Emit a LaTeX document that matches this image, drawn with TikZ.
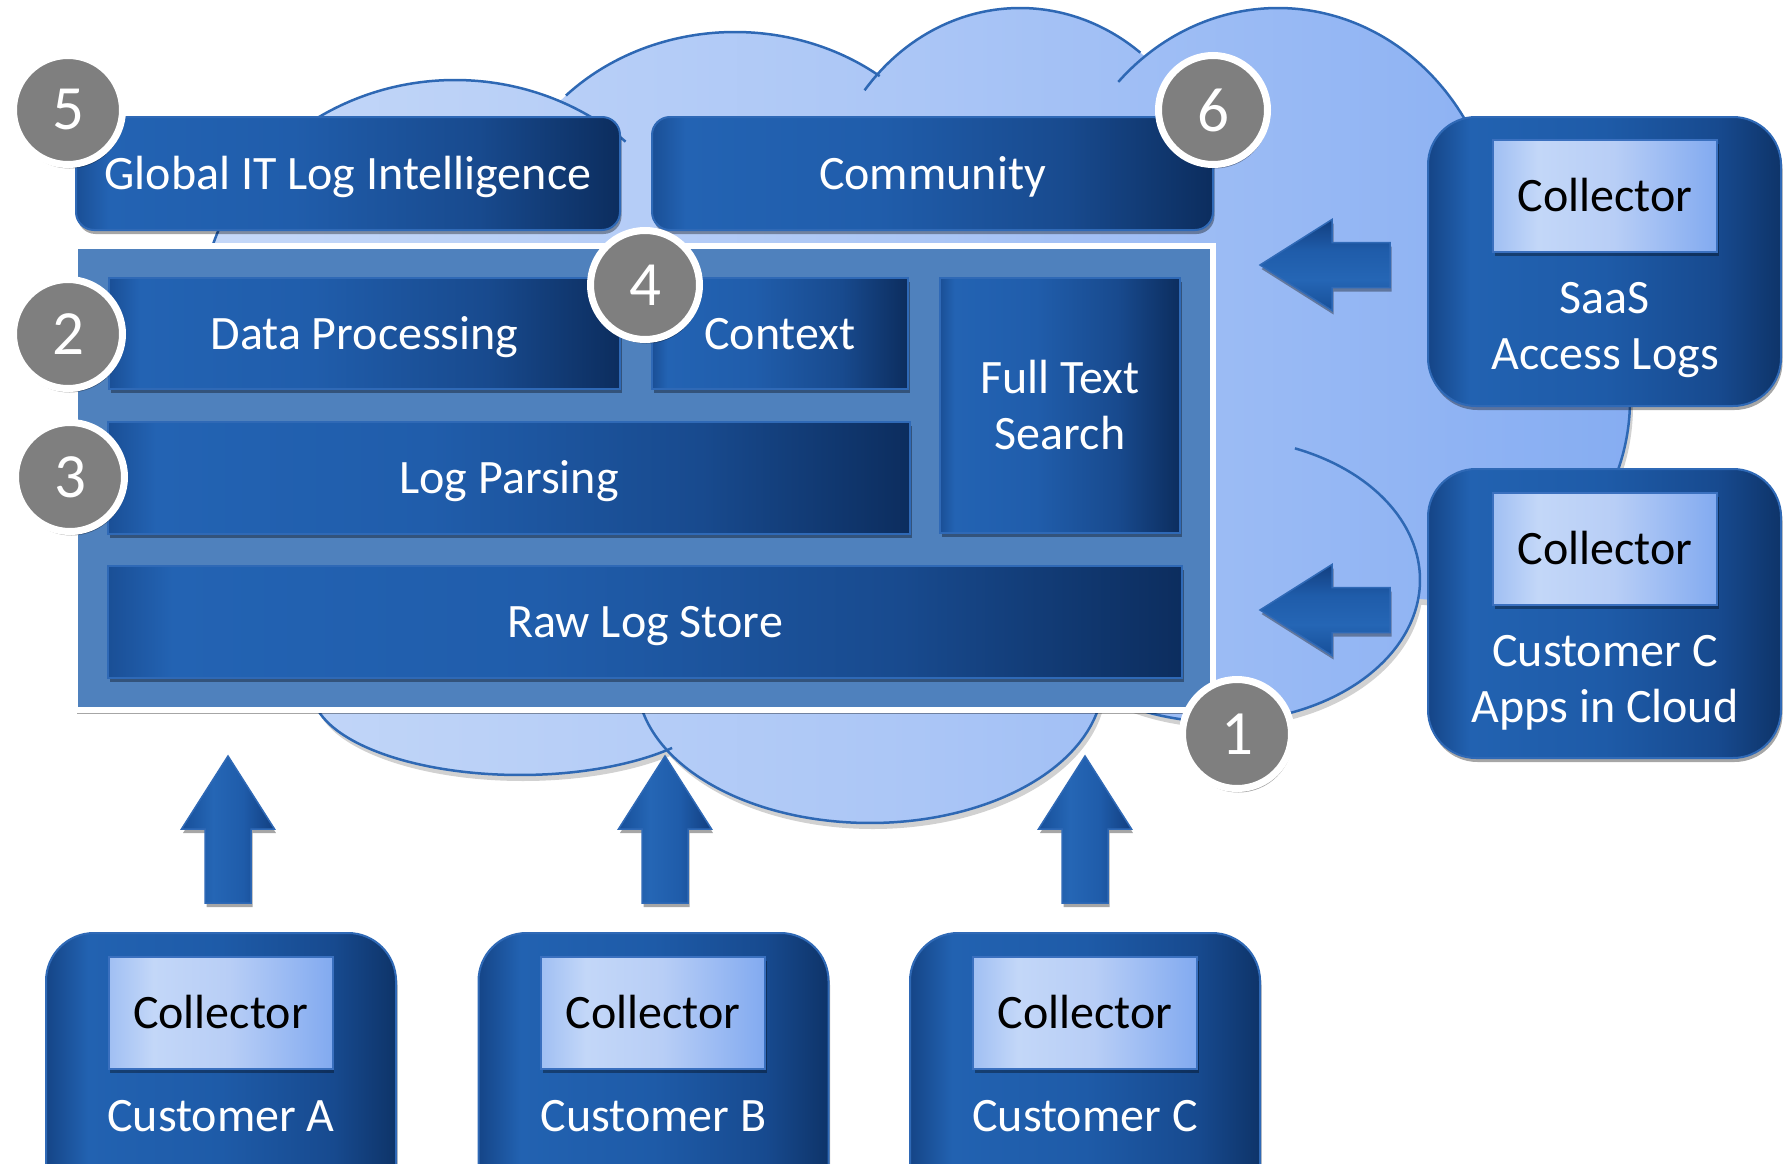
\documentclass[tikz,border=0pt]{standalone}
\usepackage{fontspec}
\setmainfont{Carlito}
\usetikzlibrary{shadows}

% palette
\definecolor{bxA}{HTML}{1A4F96}
\definecolor{bxB}{HTML}{2363B3}
\definecolor{bxC}{HTML}{205DAB}
\definecolor{bxD}{HTML}{184A8E}
\definecolor{bxE}{HTML}{0C2D5E}
\definecolor{srcA}{HTML}{154587}
\definecolor{srcB}{HTML}{2262B1}
\definecolor{srcC}{HTML}{1E5BA8}
\definecolor{srcD}{HTML}{174A8F}
\definecolor{srcE}{HTML}{0E3469}
\definecolor{colA}{HTML}{A0BFF3}
\definecolor{colB}{HTML}{C3D7F8}
\definecolor{colC}{HTML}{B8CEF6}
\definecolor{colD}{HTML}{82AAF0}
\definecolor{cldA}{HTML}{C5D8F8}
\definecolor{cldB}{HTML}{ABC6F6}
\definecolor{cldC}{HTML}{86ADF2}
\definecolor{arA}{HTML}{174F99}
\definecolor{arB}{HTML}{2566B5}
\definecolor{arC}{HTML}{1F5CAA}
\definecolor{arD}{HTML}{123F80}
\definecolor{boxedge}{HTML}{2F69B6}
\definecolor{colledge}{HTML}{3A70BF}
\definecolor{cloudedge}{HTML}{2E68B4}
\definecolor{storeblue}{HTML}{4F81BD}
\definecolor{badgegray}{HTML}{7F7F7F}

% gradients (the path spans 25bp..75bp of each shading)
\pgfdeclarehorizontalshading{boxshade}{100bp}{color(0bp)=(bxA); color(25bp)=(bxA); color(28bp)=(bxB); color(45bp)=(bxC); color(62bp)=(bxD); color(75bp)=(bxE); color(100bp)=(bxE)}
\pgfdeclarehorizontalshading{sourceshade}{100bp}{color(0bp)=(srcA); color(25bp)=(srcA); color(31bp)=(srcB); color(50bp)=(srcC); color(66bp)=(srcD); color(75bp)=(srcE); color(100bp)=(srcE)}
\pgfdeclarehorizontalshading{collshade}{100bp}{color(0bp)=(colA); color(25bp)=(colA); color(35bp)=(colB); color(52bp)=(colC); color(75bp)=(colD); color(100bp)=(colD)}
\pgfdeclarehorizontalshading{cloudshade}{100bp}{color(0bp)=(cldA); color(25bp)=(cldA); color(50bp)=(cldB); color(75bp)=(cldC); color(100bp)=(cldC)}
\pgfdeclarehorizontalshading{arrowshade}{100bp}{color(0bp)=(arA); color(25bp)=(arA); color(42bp)=(arB); color(58bp)=(arC); color(75bp)=(arD); color(100bp)=(arD)}

\newcommand\lblfont{\fontsize{48}{56}\selectfont}
\newcommand\digitfont{\fontsize{63}{63}\selectfont}

% block arrows: upward ones by x position, leftward ones by y position
\newcommand\uparrowat[2]{%
  \path[blockarrow] ({#1-23},903) -- ({#1-23},829) -- ({#1-46.5},829) -- (#2)
    -- ({#1+46.5},829) -- ({#1+23},829) -- ({#1+23},903) -- cycle;}
\newcommand\leftarrowat[2]{%
  \path[blockarrow, shading angle=90] (1390,{#1-22.5}) -- (1332,{#1-22.5}) -- (1332,{#1-45.5}) -- (#2)
    -- (1332,{#1+45.5}) -- (1332,{#1+22.5}) -- (1390,{#1+22.5}) -- cycle;}

\begin{document}
\begin{tikzpicture}[x=1pt, y=-1pt,
  softshadow/.style={drop shadow={shadow xshift=1.5pt, shadow yshift=-4pt, opacity=0.35, fill=black}},
  panel/.style={rectangle, shade, shading=boxshade, draw=boxedge, line width=2pt, inner sep=0pt,
    text=white, font=\lblfont, softshadow},
  capline/.style={text height=31pt, text depth=0pt},
  roundpanel/.style={panel, rounded corners=18pt},
  storebox/.style={rectangle, fill=storeblue, draw=white, line width=6pt, inner sep=0pt,
    minimum width=1138pt, minimum height=464pt, softshadow},
  sourcebox/.style={rectangle, rounded corners=48pt, shade, shading=sourceshade, draw=boxedge,
    line width=2pt, minimum width=353pt, minimum height=289pt, inner sep=0pt, softshadow},
  collectorbox/.style={rectangle, shade, shading=collshade, draw=colledge, line width=2pt,
    minimum width=224pt, minimum height=112pt, inner sep=0pt, text=black, font=\lblfont,
    capline, softshadow},
  sourcetext/.style={text=white, font=\lblfont, align=center, inner sep=0pt},
  badge/.style={circle, fill=badgegray, draw=white, line width=7pt, minimum size=109pt,
    inner sep=0pt, text=white, font=\digitfont, softshadow},
  blockarrow/.style={shade, shading=arrowshade, draw=boxedge, line width=1.5pt, softshadow},
  cloudline/.style={draw=cloudedge, line width=2.5pt}]

\useasboundingbox (0,0) rectangle (1792,1164);
\clip (0,0) rectangle (1792,1164);
\fill[white] (0,0) rectangle (1792,1164);

% ---- cloud: union of overlapping bumps ----
\begin{scope}[shift={(3,6)}]
  \fill[black, opacity=0.18]
    (455,320) ellipse [x radius=255, y radius=240]
    (735,240) ellipse [x radius=235, y radius=208]
    (1020,230) ellipse [x radius=200, y radius=222]
    (1278,250) ellipse [x radius=222, y radius=242]
    (1440,400) ellipse [x radius=190, y radius=200]
    (1220,580) ellipse [x radius=200, y radius=142]
    (520,690) ellipse [x radius=208, y radius=85]
    (870,680) ellipse [x radius=233, y radius=143];
\end{scope}
\shade[shading=cloudshade]
    (455,320) ellipse [x radius=255, y radius=240]
    (735,240) ellipse [x radius=235, y radius=208]
    (1020,230) ellipse [x radius=200, y radius=222]
    (1278,250) ellipse [x radius=222, y radius=242]
    (1440,400) ellipse [x radius=190, y radius=200]
    (1220,580) ellipse [x radius=200, y radius=142]
    (520,690) ellipse [x radius=208, y radius=85]
    (870,680) ellipse [x radius=233, y radius=143];
% bump outlines
\draw[cloudline] plot[domain=-163:-48, samples=60, smooth] ({455+255*cos(\x)},{320+240*sin(\x)});
\draw[cloudline] plot[domain=-136:-52, samples=50, smooth] ({735+235*cos(\x)},{240+208*sin(\x)});
\draw[cloudline] plot[domain=-141:-53, samples=50, smooth] ({1020+200*cos(\x)},{230+222*sin(\x)});
\draw[cloudline] plot[domain=-136:-25, samples=60, smooth] ({1278+222*cos(\x)},{250+242*sin(\x)});
\draw[cloudline] plot[domain=-60:60, samples=60, smooth] ({1440+190*cos(\x)},{400+200*sin(\x)});
\draw[cloudline] plot[domain=-68:150, samples=90, smooth] ({1220+200*cos(\x)},{580+142*sin(\x)});
\draw[cloudline] plot[domain=43:180, samples=60, smooth] ({520+208*cos(\x)},{690+85*sin(\x)});
\draw[cloudline] plot[domain=0:180, samples=80, smooth] ({870+233*cos(\x)},{680+143*sin(\x)});

% ---- platform stack ----
\node[storebox] (store) at (644,478) {};
\node[panel, capline, minimum width=511pt, minimum height=111pt] (proc) at (364.5,333.5) {Data Processing};
\node[panel, capline, minimum width=256pt, minimum height=111pt] (ctx) at (780,333.5) {Context};
\node[panel, align=center, minimum width=240pt, minimum height=255pt] (fts) at (1060,405.5) {Full Text\\Search};
\node[panel, capline, minimum width=802pt, minimum height=112pt] (parse) at (509,478) {Log Parsing};
\node[panel, capline, minimum width=1074pt, minimum height=112pt] (raw) at (645,622) {Raw Log Store};

% ---- services on top ----
\node[roundpanel, capline, minimum width=544pt, minimum height=113pt] (glob) at (348,173.5) {Global IT Log Intelligence};
\node[roundpanel, capline, minimum width=561pt, minimum height=113pt] (comm) at (932.5,173.5) {Community};

% ---- log sources on the right ----
\node[sourcebox] (saas) at (1604.5,261.5) {};
\node[collectorbox] (saascol) at (1605,196) {Collector};
\node[sourcetext] (saastxt) at (1605,330) {SaaS\\Access Logs};

\node[sourcebox] (capp) at (1604.5,613.5) {};
\node[collectorbox] (cappcol) at (1605,548.5) {Collector};
\node[sourcetext] (capptxt) at (1605,683) {Customer C\\Apps in Cloud};

% ---- customer sites below ----
\node[sourcebox, minimum width=350pt] (custA) at (221,1077.5) {};
\node[collectorbox] (colA) at (220.5,1012.5) {Collector};
\node[sourcetext, capline] (txtA) at (221,1116) {Customer A};

\node[sourcebox, minimum width=350pt] (custB) at (653.5,1077.5) {};
\node[collectorbox] (colB) at (653,1012.5) {Collector};
\node[sourcetext, capline] (txtB) at (653.5,1116) {Customer B};

\node[sourcebox, minimum width=350pt] (custC) at (1085,1077.5) {};
\node[collectorbox] (colC) at (1085,1012.5) {Collector};
\node[sourcetext, capline] (txtC) at (1085,1116) {Customer C};

% ---- arrows carrying logs into the cloud ----
\coordinate (tipA) at (228,756);
\coordinate (tipB) at (665,756);
\coordinate (tipC) at (1085,756);
\coordinate (tipSaaS) at (1260,265);
\coordinate (tipCloud) at (1260,610);
\uparrowat{228}{tipA}
\uparrowat{665}{tipB}
\uparrowat{1085}{tipC}
\leftarrowat{265}{tipSaaS}
\leftarrowat{610}{tipCloud}

% ---- numbered badges ----
\node[badge] (n5) at (68,110) {5};
\node[badge] (n6) at (1213,110) {6};
\node[badge] (n4) at (645,285) {4};
\node[badge] (n2) at (68,334) {2};
\node[badge] (n3) at (70,477) {3};
\node[badge] (n1) at (1237,734) {1};
\end{tikzpicture}
\end{document}
